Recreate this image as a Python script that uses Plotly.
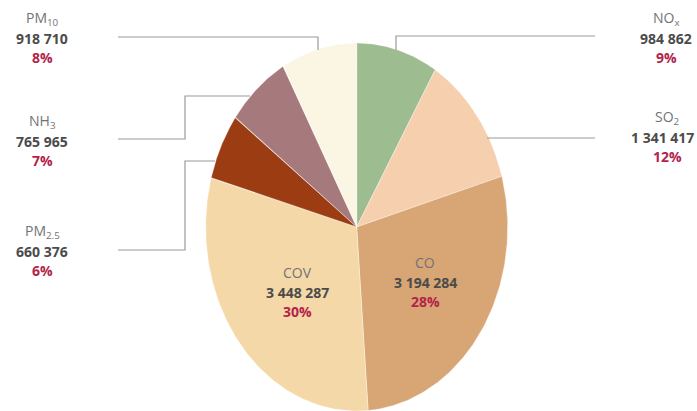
import numpy as np
import plotly.graph_objects as go

# ---- data ----
pollutants = ["NO<sub>x</sub>", "SO<sub>2</sub>", "CO", "COV", "PM<sub>2.5</sub>", "NH<sub>3</sub>", "PM<sub>10</sub>"]
emissions = [984862, 1341417, 3194284, 3448287, 660376, 765965, 918710]
value_labels = ["984 862", "1 341 417", "3 194 284", "3 448 287", "660 376", "765 965", "918 710"]
pct_labels = ["9%", "12%", "28%", "30%", "6%", "7%", "8%"]
colors = ["#9dbd91", "#f6cfae", "#d8a574", "#f5d8a7", "#9c3c12", "#a6797c", "#fbf5e4"]

# ---- layout params ----
W, H = 697, 411
cx, cy, rx, ry = 356.7, 227, 151, 184

# label anchor (x, y of the first text line) per slice
label_pos = [(666, 18), (667, 117), (425, 262), (297, 272), (42, 231), (42, 121), (42, 18)]
# leader line paths per slice (None = no leader)
leaders = [
    [(396, 50), (396, 36), (595, 36)],
    [(487, 138), (595, 138)],
    None,
    None,
    [(215, 161), (185, 161), (185, 250), (118, 250)],
    [(250, 96), (185, 96), (185, 139), (118, 139)],
    [(318, 50), (318, 37), (118, 37)],
]

fig = go.Figure()
total = sum(emissions)
cum = 0.0
for i, v in enumerate(emissions):
    a0 = cum / total
    cum += v
    a1 = cum / total
    th = np.linspace(2 * np.pi * a0, 2 * np.pi * a1, 120)
    xs = np.concatenate([[cx], cx + rx * np.sin(th), [cx]])
    ys = np.concatenate([[cy], cy - ry * np.cos(th), [cy]])
    fig.add_trace(go.Scatter(x=xs, y=ys, mode="lines", fill="toself",
                             fillcolor=colors[i], line=dict(color="rgba(255,255,255,0.6)", width=0.6),
                             hoverinfo="skip", showlegend=False))

for path in leaders:
    if path:
        fig.add_trace(go.Scatter(x=[p[0] for p in path], y=[p[1] for p in path], mode="lines",
                                 line=dict(color="#9a9a9a", width=1.2),
                                 hoverinfo="skip", showlegend=False))

font = "Open Sans"
for i in range(len(emissions)):
    x, y = label_pos[i]
    fig.add_annotation(x=x, y=y, text=pollutants[i], showarrow=False, xref="x", yref="y",
                       font=dict(family=font, size=14, color="#737373"))
    vx, vanchor = (x, "center")
    if len(value_labels[i]) > 8 and x > 600:
        vx, vanchor = (W - 1, "right")
    fig.add_annotation(x=vx, y=y + 20, text="<b>" + value_labels[i] + "</b>", showarrow=False,
                       xanchor=vanchor, xref="x", yref="y",
                       font=dict(family=font, size=14, color="#4b4b4b"))
    fig.add_annotation(x=x, y=y + 39, text="<b>" + pct_labels[i] + "</b>", showarrow=False,
                       xref="x", yref="y", font=dict(family=font, size=14, color="#b3234b"))

fig.update_layout(
    width=W, height=H, margin=dict(l=0, r=0, t=0, b=0),
    paper_bgcolor="white", plot_bgcolor="white",
    xaxis=dict(range=[0, W], visible=False, fixedrange=True),
    yaxis=dict(range=[H, 0], visible=False, fixedrange=True),
    showlegend=False,
)
fig.write_html("out.html", config={"displayModeBar": False},
               post_script="document.body.style.margin='0';document.body.style.padding='0';")
